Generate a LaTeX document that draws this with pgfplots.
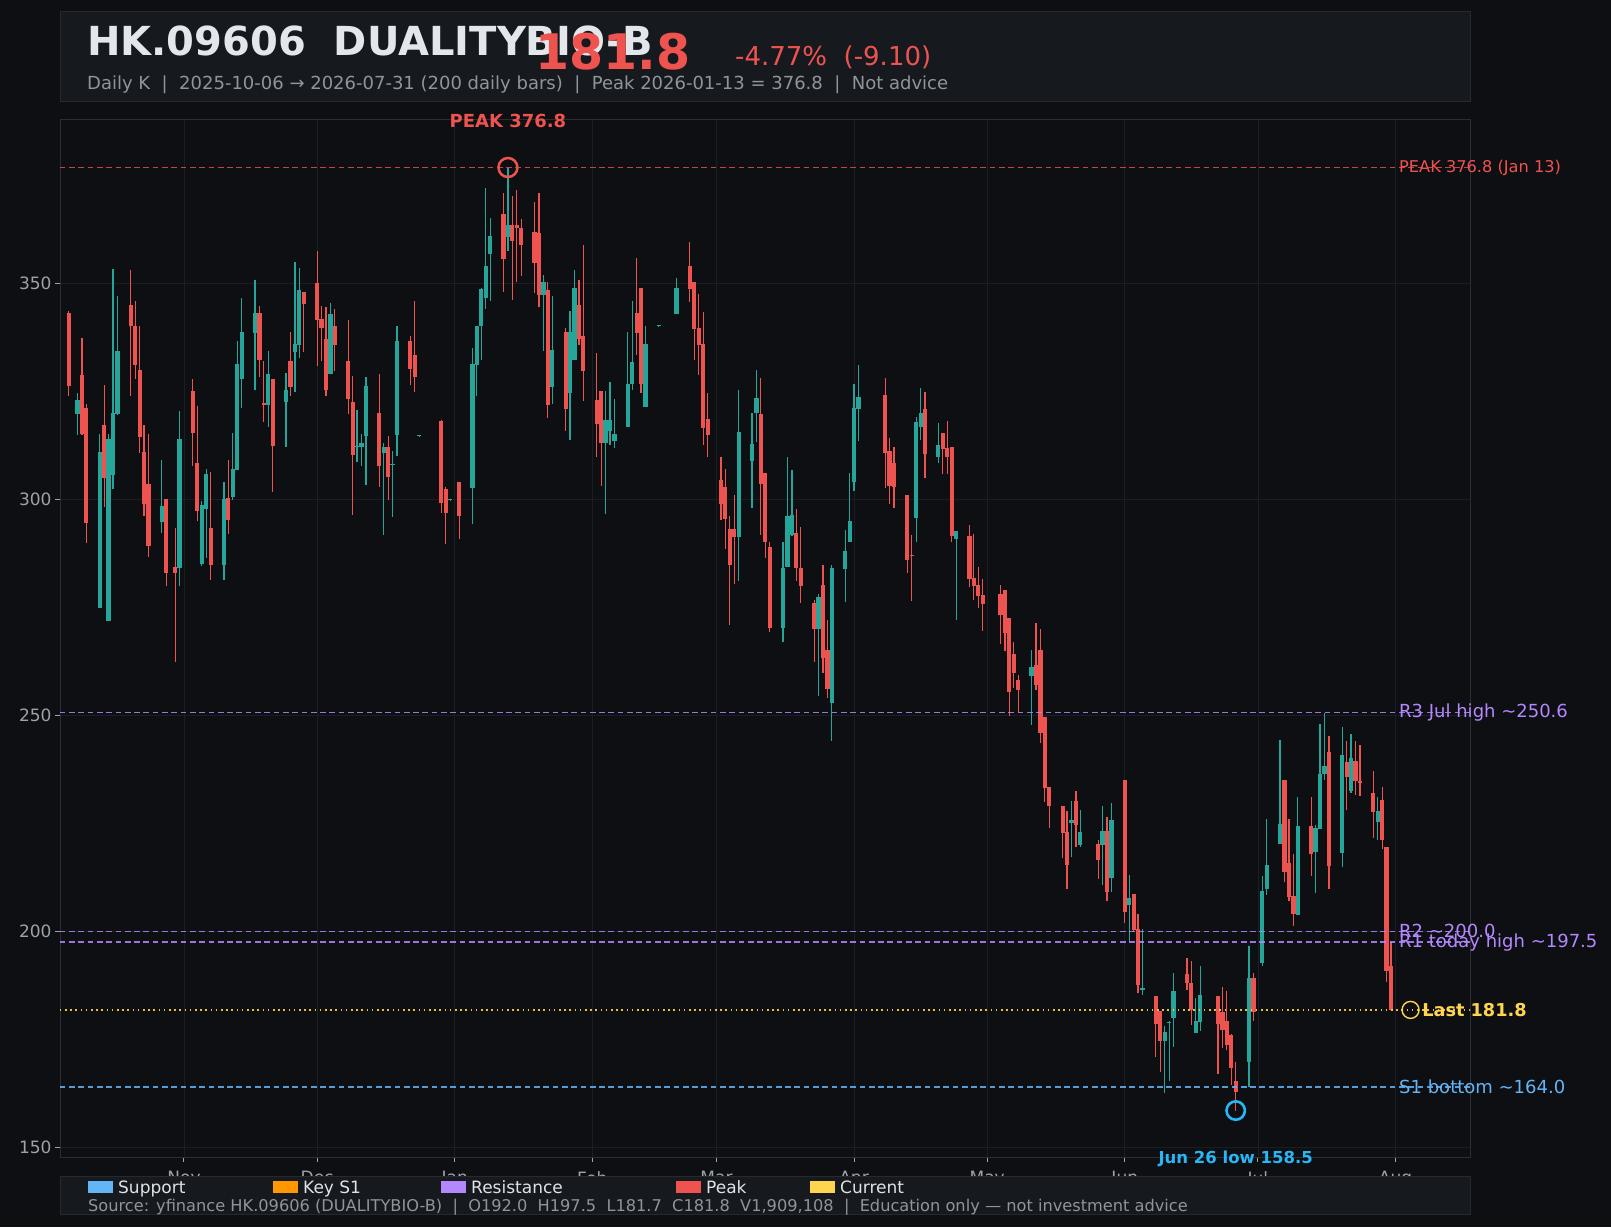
\documentclass[border=0pt]{standalone}
\usepackage{pgfplots}
\pgfplotsset{compat=1.18}
\usepackage{pgfplotstable}
\usepackage{fontspec}
\setmainfont{DejaVu Sans}
\definecolor{bgc}{HTML}{0D0F12}
\definecolor{panel}{HTML}{161A1F}
\definecolor{panelb}{HTML}{262A30}
\definecolor{framec}{HTML}{2A2E34}
\definecolor{gridc}{HTML}{1B1E23}
\definecolor{tickc}{HTML}{9EA3A8}
\definecolor{upc}{HTML}{26A69A}
\definecolor{dnc}{HTML}{EF5350}
\definecolor{titlec}{HTML}{E3E6EA}
\definecolor{subc}{HTML}{8F959B}
\definecolor{resc}{HTML}{B388FF}
\definecolor{supc}{HTML}{64B5F6}
\definecolor{keyc}{HTML}{FF9800}
\definecolor{curc}{HTML}{FFD54F}
\definecolor{lowc}{HTML}{29B6F6}
\definecolor{legt}{HTML}{E0E3E6}
\newcommand{\fs}[1]{\fontsize{#1bp}{#1bp}\selectfont}

% d = days since 2025-11-01
\pgfplotstableread{
d o h l c
-26 343.2 343.5 323.8 326.2
-24 319.8 324.5 314.9 323.0
-23 328.8 337.4 314.9 315.1
-22 321.1 322.1 289.8 294.6
-19 274.9 315.1 274.9 311.0
-18 317.2 326.5 298.1 305.0
-17 271.9 315.1 271.9 314.0
-16 305.6 353.3 302.4 320.0
-15 319.7 347.1 319.5 334.3
-12 345.0 353.1 324.0 340.0
-11 340.1 345.9 327.9 331.1
-10 329.9 340.1 310.8 314.5
-9 311.0 317.2 296.2 298.9
-8 303.5 315.1 286.7 289.2
-5 294.8 309.0 292.3 298.5
-4 300.1 300.1 279.9 283.0
-2 284.3 293.4 262.4 283.0
-1 284.0 320.4 279.9 314.0
2 325.1 327.9 307.7 315.4
3 308.5 321.5 295.0 297.3
4 285.0 299.5 284.6 298.7
5 297.8 307.0 286.3 305.9
6 293.4 306.2 281.3 284.8
9 284.8 303.9 281.3 300.1
10 300.4 309.0 292.0 295.2
11 300.6 315.4 299.8 307.0
12 306.8 336.7 306.8 331.3
13 327.9 346.7 321.1 338.7
16 338.6 350.8 325.2 343.2
17 343.2 344.8 328.4 332.3
18 322.2 332.0 318.0 321.9
19 321.8 334.3 316.8 329.0
20 327.9 327.9 301.8 312.4
23 322.6 329.3 312.0 325.3
24 332.0 338.8 324.0 326.1
25 334.0 354.9 324.9 336.0
26 335.7 353.5 332.8 348.5
27 348.0 348.0 334.0 345.3
30 350.0 357.5 330.9 341.5
31 341.7 344.8 331.9 339.7
32 337.0 344.6 323.9 325.3
33 329.0 345.5 329.0 342.9
34 340.1 344.0 329.8 335.7
37 332.0 341.5 319.8 323.2
38 322.5 328.5 296.4 310.3
39 312.0 320.7 308.6 312.2
40 312.0 315.0 307.7 313.0
41 314.7 328.3 303.3 326.2
44 320.0 329.0 302.9 307.7
45 310.7 313.0 291.7 312.1
46 312.1 314.7 299.8 305.2
47 307.9 311.2 296.0 308.0
48 314.9 340.1 310.0 336.7
51 336.7 337.7 326.5 330.2
52 333.4 345.9 324.9 328.2
53 314.6 314.8 314.4 314.7
58 318.1 318.4 296.9 299.2
59 302.4 302.9 289.7 296.9
60 299.8 300.0 299.6 299.9
62 304.0 304.0 290.8 296.2
65 302.7 335.0 294.3 331.3
66 331.1 340.1 323.8 340.0
67 340.0 348.8 332.3 348.7
68 346.5 372.1 344.1 354.0
69 356.8 365.2 346.0 361.0
72 366.0 371.0 347.9 355.6
73 360.8 376.8 357.5 363.5
74 363.5 370.1 346.1 359.9
75 363.5 371.6 350.2 362.7
76 362.7 364.9 351.8 358.9
79 361.9 368.9 347.7 354.8
80 361.7 371.0 344.4 347.3
81 347.3 351.9 334.3 350.3
82 348.5 350.3 318.8 321.8
83 326.1 347.1 322.1 334.6
86 338.7 339.7 315.8 320.9
87 324.5 343.6 313.7 338.7
88 332.2 353.1 332.2 348.8
89 345.0 350.8 335.7 337.1
90 337.8 358.9 322.8 329.8
93 323.0 333.8 309.9 317.4
94 325.0 325.0 303.1 313.1
95 313.1 325.0 296.7 318.4
96 315.7 327.1 312.6 318.4
97 313.5 323.2 311.8 315.1
100 316.8 338.7 316.8 326.8
101 326.7 346.0 325.3 331.7
102 343.1 355.9 333.4 338.6
103 348.8 348.8 324.5 326.7
104 321.4 340.1 321.3 335.9
107 340.0 340.1 339.9 340.0
111 342.9 351.3 342.9 348.8
114 354.0 359.6 345.7 348.7
115 350.4 350.4 332.2 339.4
116 339.7 347.5 328.7 335.7
117 335.9 343.4 312.6 316.6
118 318.6 324.6 309.9 314.9
121 304.5 309.7 295.3 298.9
122 302.8 307.0 288.6 295.5
123 293.1 296.1 270.9 284.8
124 293.1 301.0 280.3 291.2
125 291.2 325.3 281.1 315.6
128 308.9 320.0 298.0 312.9
129 319.9 329.9 313.3 323.4
130 319.7 328.0 291.7 303.5
131 306.0 306.0 286.3 290.2
132 288.9 290.2 269.2 270.3
135 270.3 290.0 266.9 284.0
136 284.4 309.9 284.4 296.1
137 291.7 306.8 291.5 296.4
138 292.3 297.8 281.1 284.2
139 284.2 293.5 276.1 280.0
142 275.9 276.7 262.4 269.9
143 269.9 278.0 254.5 277.4
144 280.1 284.8 259.9 263.2
145 265.1 272.1 254.1 256.0
146 252.9 284.8 244.1 284.2
149 283.8 292.9 276.3 288.0
150 290.2 306.0 290.2 295.0
151 303.9 326.8 302.0 321.1
152 321.0 331.1 313.6 323.6
158 324.1 328.1 302.7 310.8
159 311.2 314.3 298.9 303.1
160 308.3 312.0 297.9 302.9
163 301.0 301.0 283.0 285.9
164 287.0 291.7 276.5 286.8
165 295.7 319.1 290.1 318.0
166 316.8 325.8 313.7 320.0
167 321.0 324.9 305.0 310.5
170 309.9 317.7 308.3 312.6
171 315.3 315.3 305.8 311.6
172 311.8 318.2 305.8 309.9
173 312.1 312.1 290.0 291.4
174 290.8 292.7 272.1 292.7
177 291.4 294.1 279.6 281.5
178 281.8 291.9 276.8 279.9
179 280.1 284.4 274.8 277.6
180 277.8 281.5 269.5 275.7
184 278.0 280.1 266.5 273.2
185 279.0 279.0 264.9 269.1
186 272.6 272.6 249.9 255.5
187 264.2 267.0 256.4 259.7
188 258.2 259.3 250.8 255.8
191 259.1 265.1 247.8 261.1
192 261.7 271.4 255.8 257.0
193 265.0 269.9 243.5 246.0
194 249.7 249.7 230.0 233.2
195 233.4 233.4 223.9 228.9
198 228.9 228.9 216.9 222.8
199 222.9 227.8 209.7 215.3
200 225.0 230.2 217.1 225.8
201 230.2 232.5 219.4 224.6
202 220.0 228.0 219.4 222.9
206 220.2 221.1 212.2 216.5
207 220.0 228.9 210.7 223.2
208 223.2 226.5 206.9 209.2
209 212.4 229.7 209.2 225.8
212 235.0 235.0 202.0 204.5
213 206.0 213.0 197.7 207.7
214 208.7 208.7 199.8 200.3
215 200.5 204.0 185.6 187.5
216 186.4 200.6 185.2 186.8
219 185.0 185.0 171.0 178.5
220 181.6 181.6 167.5 174.5
221 174.5 178.1 162.5 176.6
222 178.7 179.3 165.3 179.0
223 180.0 190.3 173.3 186.2
226 190.1 193.7 186.3 188.1
227 188.0 193.1 178.2 181.8
228 176.4 184.6 176.4 179.3
229 178.9 191.9 177.0 185.3
233 185.0 185.0 167.0 178.5
234 181.2 187.0 173.0 177.1
235 179.3 186.2 172.6 173.6
236 175.9 176.2 164.4 168.4
237 165.4 169.7 158.5 162.9
240 169.8 196.6 164.0 189.1
241 189.1 190.4 179.3 181.2
243 192.6 212.8 192.0 209.3
244 209.8 226.0 208.4 215.4
247 220.2 244.3 220.2 224.8
248 235.0 235.0 211.3 213.8
249 215.7 226.0 206.9 208.0
250 208.2 218.0 201.2 204.1
251 203.8 231.1 203.8 224.4
254 224.4 231.1 212.8 217.8
255 218.3 224.7 208.8 223.9
256 223.6 248.0 223.6 236.4
257 236.3 250.6 235.1 238.3
258 241.4 245.1 209.8 215.0
261 218.1 247.2 214.8 240.8
262 239.3 244.1 228.1 235.8
263 232.5 245.6 232.1 240.0
264 239.4 244.1 231.6 234.7
265 234.8 243.1 231.2 234.3
268 232.0 237.2 221.6 227.6
269 225.2 231.0 221.2 227.9
270 230.3 233.3 219.1 221.2
271 219.5 219.5 188.3 190.9
272 192.0 197.5 181.7 181.8
}\candles

\begin{document}
\begin{tikzpicture}[x=1bp,y=1bp]
\fill[bgc] (0,0) rectangle (1611,1227);
% header panel
\filldraw[fill=panel, draw=panelb, line width=1bp] (60,1215) rectangle (1470,1125);
\node[anchor=base west, inner sep=0, text=titlec, font=\fs{40}\bfseries] at (87,1171.3) {HK.09606\ \ DUALITYBIO-B};
\node[anchor=base west, inner sep=0, text=dnc, font=\fs{49}\bfseries] at (535,1157) {181.8};
\node[anchor=base west, inner sep=0, text=dnc, font=\fs{26}] at (735,1161.3) {-4.77\%\ \ (-9.10)};
\node[anchor=base west, inner sep=0, text=subc, font=\fs{18}] at (87,1137) {Daily K\ \ |\ \ 2025-10-06 → 2026-07-31 (200 daily bars)\ \ |\ \ Peak 2026-01-13 = 376.8\ \ |\ \ Not advice};

\begin{axis}[
  at={(60bp,70bp)}, anchor=south west,
  scale only axis, width=1410bp, height=1037bp,
  xmin=-27.94, xmax=289.8, ymin=147.75, ymax=387.8,
  clip mode=individual,
  axis line style={draw=framec, line width=1bp},
  grid=major, grid style={draw=gridc, line width=0.8bp},
  tick align=outside, major tick length=5bp,
  xtick pos=left, ytick pos=left,
  tick style={draw=tickc, line width=1bp},
  ytick={150,200,250,300,350},
  xtick={0,30,61,92,120,151,181,212,242,273},
  xticklabels={Nov,Dec,Jan,Feb,Mar,Apr,May,Jun,Jul,Aug},
  ticklabel style={font=\fs{17}, text=tickc},
  xticklabel style={yshift=-6bp},
  /pgf/number format/assume math mode=true,
  scaled ticks=false,
]
% wicks: one segment from low to high
\addplot[draw=none, mark=none, forget plot,
  error bars/.cd, y dir=plus, y explicit, error mark=none,
  error bar style={draw=upc, line width=1.2bp, solid}]
  table[x expr={\thisrow{c}>=\thisrow{o} ? \thisrow{d} : nan},
        y expr={\thisrow{l}},
        y error expr={\thisrow{h}-\thisrow{l}}] {\candles};
\addplot[draw=none, mark=none, forget plot,
  error bars/.cd, y dir=plus, y explicit, error mark=none,
  error bar style={draw=dnc, line width=1.2bp, solid}]
  table[x expr={\thisrow{c}<\thisrow{o} ? \thisrow{d} : nan},
        y expr={\thisrow{l}},
        y error expr={\thisrow{h}-\thisrow{l}}] {\candles};
% bodies: one segment from min(o,c) to max(o,c)
\addplot[draw=none, mark=none, forget plot,
  error bars/.cd, y dir=plus, y explicit, error mark=none,
  error bar style={draw=upc, line width=4.2bp, solid}]
  table[x expr={\thisrow{c}>=\thisrow{o} ? \thisrow{d} : nan},
        y expr={min(\thisrow{o},\thisrow{c})},
        y error expr={max(abs(\thisrow{o}-\thisrow{c}),0.25)}] {\candles};
\addplot[draw=none, mark=none, forget plot,
  error bars/.cd, y dir=plus, y explicit, error mark=none,
  error bar style={draw=dnc, line width=4.2bp, solid}]
  table[x expr={\thisrow{c}<\thisrow{o} ? \thisrow{d} : nan},
        y expr={min(\thisrow{o},\thisrow{c})},
        y error expr={max(abs(\thisrow{o}-\thisrow{c}),0.25)}] {\candles};

% level lines
\addplot[dnc, draw opacity=0.8, line width=1.4bp, dash pattern=on 5.7bp off 3.6bp, forget plot] coordinates {(-28,376.8) (290,376.8)};
\addplot[resc, draw opacity=0.85, line width=1.4bp, dash pattern=on 5.7bp off 3.6bp, forget plot] coordinates {(-28,250.6) (290,250.6)};
\addplot[resc, draw opacity=0.85, line width=1.4bp, dash pattern=on 5.7bp off 3.6bp, forget plot] coordinates {(-28,200.0) (290,200.0)};
\addplot[resc, draw opacity=0.85, line width=1.4bp, dash pattern=on 5.7bp off 3.6bp, forget plot] coordinates {(-28,197.5) (290,197.5)};
\addplot[supc, draw opacity=0.85, line width=1.4bp, dash pattern=on 5.7bp off 3.6bp, forget plot] coordinates {(-28,164.0) (290,164.0)};
\addplot[curc, draw opacity=0.9, line width=1.6bp, dash pattern=on 1.7bp off 3.5bp, forget plot] coordinates {(-28,181.8) (290,181.8)};

% markers
\addplot[only marks, mark=o, mark size=9.5bp, mark options={draw=dnc, line width=2.5bp, solid}, forget plot] coordinates {(73,376.8)};
\addplot[only marks, mark=o, mark size=9.2bp, mark options={draw=lowc, line width=2.6bp, solid}, forget plot] coordinates {(237,158.5)};
\addplot[only marks, mark=o, mark size=8.5bp, mark options={draw=curc, line width=1.4bp, solid}, forget plot] coordinates {(276.4,181.8)};

% labels
\node[anchor=base, inner sep=0, text=dnc, font=\fs{18}\bfseries] at (axis cs:73,386.1) {PEAK 376.8};
\node[anchor=west, inner sep=0, text=dnc, font=\fs{16.2}] at (axis cs:273.8,376.8) {PEAK 376.8 (Jan 13)};
\node[anchor=west, inner sep=0, text=resc, font=\fs{18}] at (axis cs:273.8,250.6) {R3 Jul high \textasciitilde 250.6};
\node[anchor=west, inner sep=0, text=resc, font=\fs{18}] at (axis cs:273.8,200.0) {R2 \textasciitilde 200.0};
\node[anchor=west, inner sep=0, text=resc, font=\fs{18}] at (axis cs:273.8,197.5) {R1 today high \textasciitilde 197.5};
\node[anchor=west, inner sep=0, text=supc, font=\fs{18}] at (axis cs:273.8,164.0) {S1 bottom \textasciitilde 164.0};
\node[anchor=west, inner sep=0, text=curc, font=\fs{17.7}\bfseries] at (axis cs:279.0,181.8) {Last 181.8};
\node[anchor=base, inner sep=0, text=lowc, font=\fs{16.5}\bfseries] at (axis cs:237,146.3) {Jun 26 low 158.5};
\end{axis}

% footer panel
\filldraw[fill=panel, draw=panelb, line width=1bp] (60,51) rectangle (1470,13);
\fill[supc] (88,34) rectangle (113,46);
\node[anchor=base west, inner sep=0, text=legt, font=\fs{17}] at (118,33.7) {Support};
\fill[keyc] (273,34) rectangle (298,46);
\node[anchor=base west, inner sep=0, text=legt, font=\fs{17}] at (303,33.7) {Key S1};
\fill[resc] (441,34) rectangle (466,46);
\node[anchor=base west, inner sep=0, text=legt, font=\fs{17}] at (471,33.7) {Resistance};
\fill[dnc] (676,34) rectangle (701,46);
\node[anchor=base west, inner sep=0, text=legt, font=\fs{17}] at (706,33.7) {Peak};
\fill[curc] (810,34) rectangle (835,46);
\node[anchor=base west, inner sep=0, text=legt, font=\fs{17}] at (840,33.7) {Current};
\node[anchor=base west, inner sep=0, text=subc, font=\fs{16.2}] at (88,15.3) {Source: yfinance HK.09606 (DUALITYBIO-B)\ \ |\ \ O192.0\ \ H197.5\ \ L181.7\ \ C181.8\ \ V1,909,108\ \ |\ \ Education only — not investment advice};
\end{tikzpicture}
\end{document}
